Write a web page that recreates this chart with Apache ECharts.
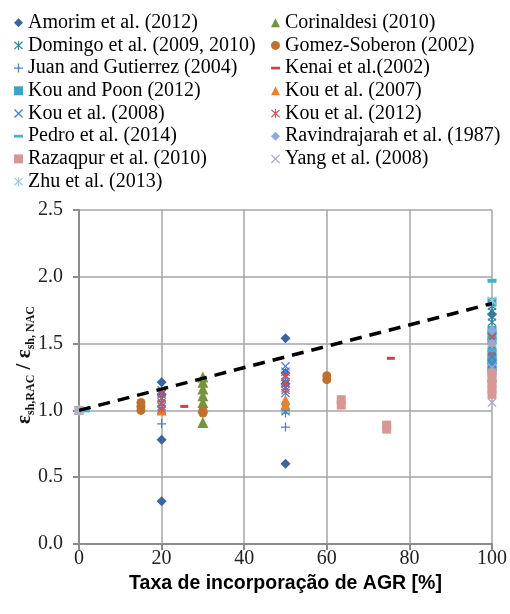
<!DOCTYPE html>
<html>
<head>
<meta charset="utf-8">
<script src="https://cdn.jsdelivr.net/npm/echarts@6/dist/echarts.min.js"></script>
<style>html,body{margin:0;padding:0;background:#fff;}#c{width:510px;height:614px;}</style>
</head>
<body>
<div id="c"></div>
<script>
// ---- data ----
const amorim = [[20,1.21],[20,1.12],[20,0.78],[20,0.32],[50,1.54],[50,1.28],[50,1.20],[50,0.60],[100,1.72],[100,1.38],[100,1.35],[100,1.30]];
const corinaldesi = [[30,1.25],[30,1.21],[30,1.16],[30,1.11],[30,1.06],[30,1.02],[30,0.91]];
const domingo = [[0,1.0],[20,1.0],[50,1.02],[50,0.99],[100,1.78],[100,1.74],[100,1.70],[100,1.66]];
const gomez = [[15,1.06],[15,1.03],[15,1.0],[30,1.0],[30,0.98],[60,1.26],[60,1.23]];
const juan = [[20,0.90],[50,0.98],[50,0.875],[100,1.30]];
const kenai = [[25.5,1.03],[75.5,1.39]];
const kouPoon = [[100,1.81],[100,1.60],[100,1.56],[100,1.52],[100,1.42],[100,1.38],[100,1.34],[100,1.30]];
const kou2007 = [[20,1.0],[50,1.08],[50,1.04],[100,1.25]];
const kou2008 = [[20,1.15],[20,1.12],[20,1.09],[20,1.06],[20,1.03],[50,1.33],[50,1.29],[50,1.25],[50,1.21],[50,1.17],[50,1.13],[100,1.50],[100,1.45],[100,1.40],[100,1.35]];
const kou2012 = [[0,1.0],[20,1.13],[20,1.09],[20,1.05],[20,1.01],[50,1.26],[50,1.20],[50,1.15],[100,1.55],[100,1.48],[100,1.44]];
const pedro = [[1.5,1.0],[100,1.97],[100,1.45],[100,1.22]];
const ravindra = [[0,1.0],[100,1.60],[100,1.50]];
const razaqpur = [[0,1.0],[63.5,1.04],[63.5,1.08],[74.5,0.86],[74.5,0.89],[100,1.28],[100,1.24],[100,1.20],[100,1.16],[100,1.12]];
const yang = [[0,1.0],[100,1.50],[100,1.32],[100,1.06]];
const zhu = [[0,1.0],[100,1.82]];
const trend = [[0,1.0],[100,1.80]];

const names = ['Amorim et al. (2012)','Corinaldesi (2010)','Domingo et al. (2009, 2010)','Gomez-Soberon (2002)',
 'Juan and Gutierrez (2004)','Kenai et al.(2002)','Kou and Poon (2012)','Kou et al. (2007)',
 'Kou et al. (2008)','Kou et al. (2012)','Pedro et al. (2014)','Ravindrajarah et al. (1987)',
 'Razaqpur et al. (2010)','Yang et al. (2008)','Zhu et al. (2013)'];

const PLUS = 'path://M4.3,0 L5.7,0 L5.7,4.3 L10,4.3 L10,5.7 L5.7,5.7 L5.7,10 L4.3,10 L4.3,5.7 L0,5.7 L0,4.3 L4.3,4.3 Z';
const XS = 'path://M0,1 L1,0 L5,4 L9,0 L10,1 L6,5 L10,9 L9,10 L5,6 L1,10 L0,9 L4,5 Z';
const AST = 'path://M0,1.5 L1,0.5 L5,4.2 L9,0.5 L10,1.5 L6,5 L10,8.5 L9,9.5 L5,5.8 L1,9.5 L0,8.5 L4,5 Z M4.4,0 L5.6,0 L5.6,10 L4.4,10 Z';
const DASH = 'path://M0,0 L10,0 L10,3.5 L0,3.5 Z';

function sc(name, data, symbol, size, color) {
  return {type:'scatter', name:name, data:data, symbol:symbol, symbolSize:size, clip:false,
    itemStyle:{color:color, opacity:1}, emphasis:{disabled:true}, z:3};
}

const series = [
  sc(names[0], amorim, 'diamond', 10, '#3B64A0'),
  sc(names[1], corinaldesi, 'triangle', 11, '#77933C'),
  sc(names[2], domingo, AST, 9, '#31849B'),
  sc(names[3], gomez, 'circle', 9, '#C0702E'),
  sc(names[4], juan, PLUS, 9, '#4F81BD'),
  sc(names[5], kenai, DASH, [8,3], '#B94A48'),
  sc(names[6], kouPoon, 'rect', 9, '#3EA5C7'),
  sc(names[7], kou2007, 'triangle', 10, '#E8822E'),
  sc(names[8], kou2008, XS, 9, '#4F7CC8'),
  sc(names[9], kou2012, AST, 9, '#D0504D'),
  sc(names[10], pedro, DASH, [9,4], '#3FB3D3'),
  sc(names[11], ravindra, 'diamond', 10, '#8EA9DB'),
  sc(names[12], razaqpur, 'rect', 9, '#D99694'),
  sc(names[13], yang, XS, 9, '#B3A2C7'),
  sc(names[14], zhu, AST, 10, '#93CDDD'),
  {type:'line', data:trend, symbol:'none', silent:true, z:4,
   lineStyle:{color:'#000', width:3.5, type:[12,8]}}
];

const legText = {fontFamily:'Liberation Serif', fontSize:20, color:'#000', lineHeight:20};
function legData(list){ return list.map(i => {
  const d = {name:names[i]};
  if (i===5 || i===10) d.icon = 'path://M0,3 L10,3 L10,6 L0,6 Z';
  return d;
});}

const option = {
  animation:false,
  backgroundColor:'#fff',
  grid:{left:79, right:17, top:210, bottom:70},
  legend:[
    {orient:'vertical', left:14, top:12.7, padding:0, itemWidth:9, itemHeight:9, itemGap:2.7,
     textStyle:legText, selectedMode:false, data:legData([0,2,4,6,8,10,12,14])},
    {orient:'vertical', left:271, top:12.7, padding:0, itemWidth:9, itemHeight:9, itemGap:2.7,
     textStyle:legText, selectedMode:false, data:legData([1,3,5,7,9,11,13])}
  ],
  xAxis:{type:'value', min:0, max:100, interval:20,
    name:'Taxa de incorporação de AGR [%]', nameLocation:'middle', nameGap:27,
    nameTextStyle:{fontFamily:'Liberation Sans', fontWeight:'bold', fontSize:19.5, color:'#000'},
    axisLine:{show:true, lineStyle:{color:'#8C8C8C', width:2}},
    axisTick:{show:true, length:6, inside:false, lineStyle:{color:'#8C8C8C', width:2}},
    axisLabel:{fontFamily:'Liberation Serif', fontSize:20, color:'#222', margin:5},
    splitLine:{show:true, lineStyle:{color:'#A6A6A6', width:1.5}}},
  yAxis:{type:'value', min:0, max:2.5, interval:0.5,
    axisLine:{show:true, lineStyle:{color:'#8C8C8C', width:2}},
    axisTick:{show:true, length:6, inside:false, lineStyle:{color:'#8C8C8C', width:2}},
    axisLabel:{fontFamily:'Liberation Serif', fontSize:20, color:'#222', margin:16,
      formatter:v => v.toFixed(1)},
    splitLine:{show:true, lineStyle:{color:'#A6A6A6', width:1.5}}},
  graphic:[{type:'text', x:25, y:365, rotation:Math.PI/2,
    style:{text:'{e|ε}{s|sh,RAC}{e| / ε}{s|sh, NAC}', align:'center', verticalAlign:'middle',
      rich:{
        e:{fontFamily:'Liberation Serif', fontWeight:'bold', fontSize:21, lineHeight:24, verticalAlign:'middle', fill:'#111', color:'#111'},
        s:{fontFamily:'Liberation Serif', fontWeight:'bold', fontSize:12, lineHeight:13, verticalAlign:'bottom', fill:'#111', color:'#111'}
      }}}],
  series:series
};
const chart = echarts.init(document.getElementById('c'), null, {renderer:'canvas'});
chart.setOption(option);
</script>
</body>
</html>
